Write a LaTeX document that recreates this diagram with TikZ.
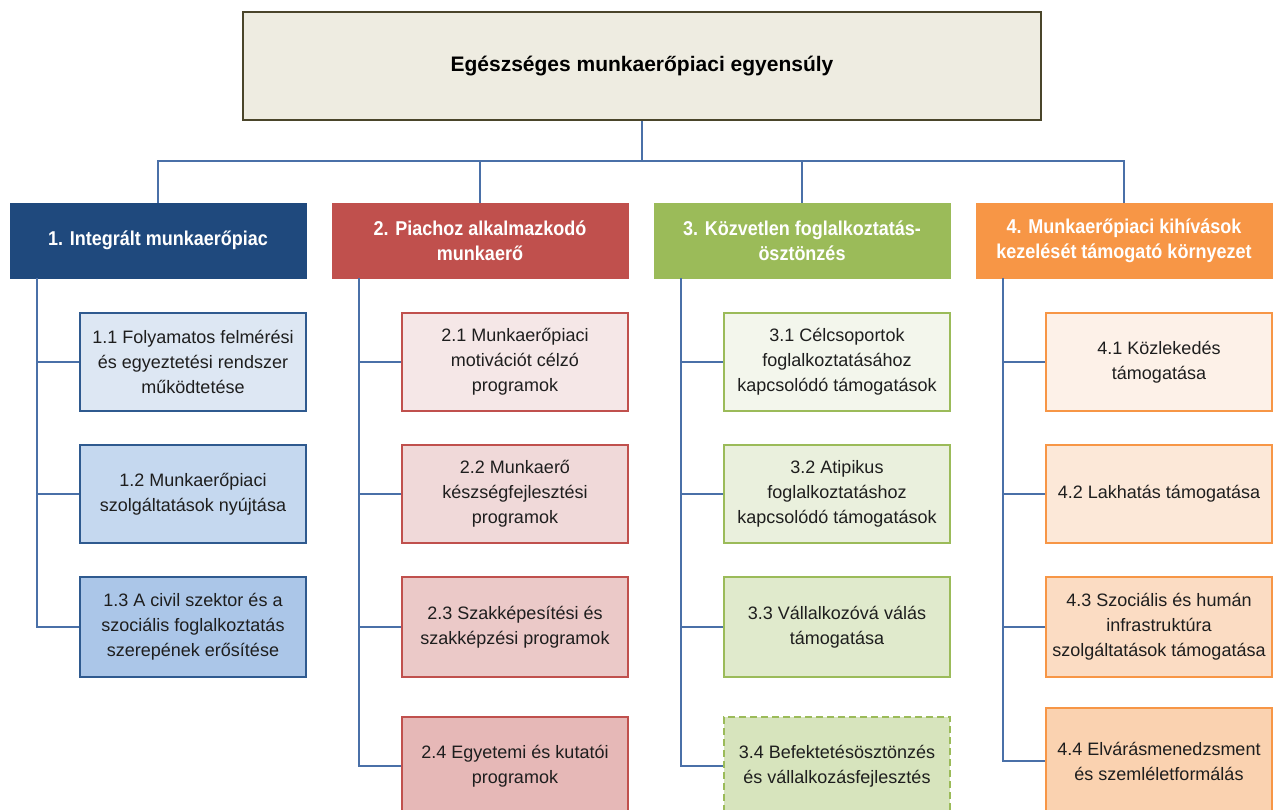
\documentclass[tikz,border=0pt]{standalone}
\usepackage{fontspec}
\setmainfont{Liberation Sans}
\newfontfamily\hdrfont[FakeStretch=0.9]{Liberation Sans}
\usetikzlibrary{calc}
\definecolor{topfill}{HTML}{EEECE1}
\definecolor{topborder}{HTML}{4A452A}
\definecolor{hA}{HTML}{1F497D}
\definecolor{hB}{HTML}{C0504D}
\definecolor{hC}{HTML}{9BBB59}
\definecolor{hD}{HTML}{F79646}
\definecolor{bA}{HTML}{2F5A8F}
\definecolor{connc}{HTML}{4A70A8}
\definecolor{txt}{HTML}{1E1E1E}
\definecolor{fA1}{HTML}{DDE7F3}
\definecolor{fA2}{HTML}{C5D8EF}
\definecolor{fA3}{HTML}{ABC6E8}
\definecolor{fB1}{HTML}{F5E7E7}
\definecolor{fB2}{HTML}{F0D9D9}
\definecolor{fB3}{HTML}{EBC9C8}
\definecolor{fB4}{HTML}{E6B8B7}
\definecolor{fC1}{HTML}{F3F6EC}
\definecolor{fC2}{HTML}{EAF0DD}
\definecolor{fC3}{HTML}{E0EACC}
\definecolor{fC4}{HTML}{D7E4BD}
\definecolor{fD1}{HTML}{FDF1E8}
\definecolor{fD2}{HTML}{FCE8D8}
\definecolor{fD3}{HTML}{FBDCC3}
\definecolor{fD4}{HTML}{FAD2B0}
\tikzset{
  topbox/.style={draw=topborder, fill=topfill, line width=1.5pt, minimum width=798pt, minimum height=108pt,
    inner sep=0pt, font=\bfseries\fontsize{21}{25}\selectfont, text=black},
  hdr/.style={fill=#1, draw=#1, minimum width=296pt, minimum height=75pt, inner sep=0pt, align=center,
    text=white, font=\hdrfont\bfseries\fontsize{20}{25}\selectfont},
  child/.style 2 args={draw=#1, fill=#2, line width=2.5pt, minimum width=226pt, minimum height=98pt,
    inner sep=0pt, align=center, text=txt, font=\fontsize{18}{25}\selectfont},
  conn/.style={draw=connc, line width=2pt},
  dashedbox/.style={dash pattern=on 7pt off 4pt}
}
\begin{document}
\begin{tikzpicture}[x=1pt,y=-1pt]
\useasboundingbox (0,0) rectangle (1275,809);
\clip (0,0) rectangle (1275,809);
\fill[white] (0,0) rectangle (1275,809);

\node[topbox] (top) at (642,66) {Egészséges munkaerőpiaci egyensúly};

\node[hdr=hA] (h1) at (158,240.5) {1. Integrált munkaerőpiac};
\node[hdr=hB] (h2) at (480,240.5) {2. Piachoz alkalmazkodó\\munkaerő};
\node[hdr=hC] (h3) at (802,240.5) {3. Közvetlen foglalkoztatás-\\ösztönzés};
\node[hdr=hD] (h4) at (1124,240.5) {4. Munkaerőpiaci kihívások\\kezelését támogató környezet};

% column 1
\node[child={bA}{fA1}] (c11) at (193,362) {1.1 Folyamatos felmérési\\és egyeztetési rendszer\\működtetése};
\node[child={bA}{fA2}] (c12) at (193,494) {1.2 Munkaerőpiaci\\szolgáltatások nyújtása};
\node[child={bA}{fA3}, minimum height=100pt] (c13) at (193,627) {1.3 A civil szektor és a\\szociális foglalkoztatás\\szerepének erősítése};

% column 2
\node[child={hB}{fB1}] (c21) at (515,362) {2.1 Munkaerőpiaci\\motivációt célzó\\programok};
\node[child={hB}{fB2}] (c22) at (515,494) {2.2 Munkaerő\\készségfejlesztési\\programok};
\node[child={hB}{fB3}, minimum height=100pt] (c23) at (515,627) {2.3 Szakképesítési és\\szakképzési programok};
\node[child={hB}{fB4}] (c24) at (515,766) {2.4 Egyetemi és kutatói\\programok};

% column 3
\node[child={hC}{fC1}] (c31) at (837,362) {3.1 Célcsoportok\\foglalkoztatásához\\kapcsolódó támogatások};
\node[child={hC}{fC2}] (c32) at (837,494) {3.2 Atipikus\\foglalkoztatáshoz\\kapcsolódó támogatások};
\node[child={hC}{fC3}, minimum height=100pt] (c33) at (837,627) {3.3 Vállalkozóvá válás\\támogatása};
\node[child={hC}{fC4}, dashedbox] (c34) at (837,766) {3.4 Befektetésösztönzés\\és vállalkozásfejlesztés};

% column 4
\node[child={hD}{fD1}] (c41) at (1159,362) {4.1 Közlekedés\\támogatása};
\node[child={hD}{fD2}] (c42) at (1159,494) {4.2 Lakhatás támogatása};
\node[child={hD}{fD3}, minimum height=100pt] (c43) at (1159,627) {4.3 Szociális és humán\\infrastruktúra\\szolgáltatások támogatása};
\node[child={hD}{fD4}, minimum height=106pt] (c44) at (1159,761) {4.4 Elvárásmenedzsment\\és szemléletformálás};

% top connectors
\draw[conn] (top.south) -- ++(0,40) coordinate (hub);
\draw[conn] (h1.north) |- (hub) -| (h4.north);
\draw[conn] (h2.north) |- (hub);
\draw[conn] (h3.north) |- (hub);

% trunks
\coordinate (t1) at ($(h1.south west)+(27,0)$);
\coordinate (t2) at ($(h2.south west)+(27,0)$);
\coordinate (t3) at ($(h3.south west)+(27,0)$);
\coordinate (t4) at ($(h4.south west)+(27,0)$);

\foreach \c in {c11,c12,c13} \draw[conn] (t1) |- (\c.west);
\foreach \c in {c21,c22,c23,c24} \draw[conn] (t2) |- (\c.west);
\foreach \c in {c31,c32,c33,c34} \draw[conn] (t3) |- (\c.west);
\foreach \c in {c41,c42,c43,c44} \draw[conn] (t4) |- (\c.west);
\end{tikzpicture}
\end{document}
